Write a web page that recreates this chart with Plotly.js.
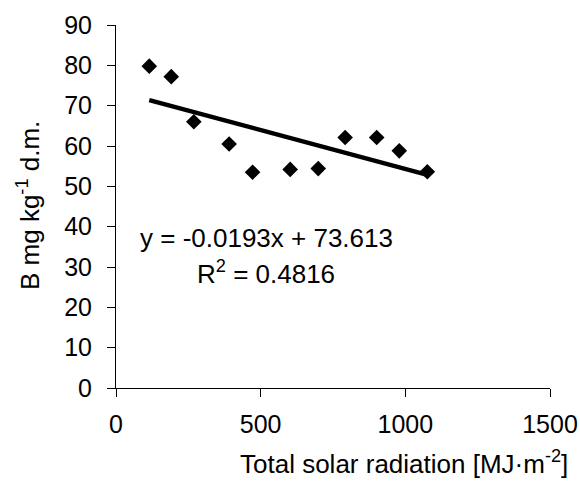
<!DOCTYPE html>
<html>
<head>
<meta charset="utf-8">
<script src="https://cdn.plot.ly/plotly-3.0.1.min.js"></script>
<style>html,body{margin:0;padding:0;background:#fff;}#chart{width:580px;height:482px;}</style>
</head>
<body>
<div id="chart"></div>
<script>
// Data
var radiation = [115, 191, 269, 391, 472, 602, 699, 792, 901, 979, 1076];
var boron = [79.8, 77.2, 66.0, 60.5, 53.5, 54.2, 54.4, 62.1, 62.1, 58.8, 53.6];
var slope = -0.0193;
var intercept = 73.613;
var r2 = 0.4816;
var xTicks = [0, 500, 1000, 1500];
var yTicks = [0, 10, 20, 30, 40, 50, 60, 70, 80, 90];
var xTitle = 'Total solar radiation [MJ·m<sup>-2</sup>]';
var yTitle = 'B mg kg<sup>-1</sup> d.m.';

var xMin = Math.min.apply(null, radiation);
var xMax = Math.max.apply(null, radiation);
var trendX = [xMin, xMax];
var trendY = trendX.map(function (x) { return slope * x + intercept; });

var FONT = "'Liberation Sans', Arial, sans-serif";
var TICK = 25, TITLE = 26, EQ = 26;

var traces = [
  {
    x: trendX, y: trendY, mode: 'lines', type: 'scatter',
    line: {color: '#000', width: 4.5}, hoverinfo: 'skip', showlegend: false
  },
  {
    x: radiation, y: boron, mode: 'markers', type: 'scatter',
    marker: {symbol: 'diamond', size: 12, color: '#000', line: {width: 0}},
    showlegend: false
  }
];

var layout = {
  width: 580, height: 482,
  margin: {l: 116, r: 30, t: 25, b: 94},
  paper_bgcolor: '#fff', plot_bgcolor: '#fff',
  font: {family: FONT, size: TICK, color: '#000'},
  showlegend: false,
  xaxis: {
    range: [0, 1500], tickvals: xTicks, ticktext: xTicks.map(String),
    showgrid: false, zeroline: false, showline: true, linecolor: '#000', linewidth: 1,
    ticks: 'outside', ticklen: 8, tickwidth: 1, tickcolor: '#000',
    ticklabelstandoff: 6,
    tickfont: {family: FONT, size: TICK, color: '#000'}, fixedrange: true
  },
  yaxis: {
    range: [0, 90], tickvals: yTicks, ticktext: yTicks.map(String),
    showgrid: false, zeroline: false, showline: true, linecolor: '#000', linewidth: 1,
    ticks: 'outside', ticklen: 8, tickwidth: 1, tickcolor: '#000',
    ticklabelstandoff: 10,
    tickfont: {family: FONT, size: TICK, color: '#000'}, fixedrange: true
  },
  annotations: [
    {
      text: xTitle,
      xref: 'paper', yref: 'paper', x: (404 - 116) / 434, y: -(462 - 388) / 363,
      xanchor: 'center', yanchor: 'middle', showarrow: false,
      font: {family: FONT, size: TITLE, color: '#000'}
    },
    {
      text: yTitle,
      xref: 'paper', yref: 'paper', x: (28 - 116) / 434, y: (388 - 206) / 363,
      xanchor: 'center', yanchor: 'middle', textangle: -90, showarrow: false,
      font: {family: FONT, size: TITLE, color: '#000'}
    },
    {
      text: 'y = ' + slope + 'x + ' + intercept,
      xref: 'paper', yref: 'paper', x: (266 - 116) / 434, y: (388 - 238) / 363,
      xanchor: 'center', yanchor: 'middle', showarrow: false,
      font: {family: FONT, size: EQ, color: '#000'}
    },
    {
      text: 'R<sup>2</sup> = ' + r2,
      xref: 'paper', yref: 'paper', x: (266 - 116) / 434, y: (388 - 272) / 363,
      xanchor: 'center', yanchor: 'middle', showarrow: false,
      font: {family: FONT, size: EQ, color: '#000'}
    }
  ]
};

Plotly.newPlot('chart', traces, layout, {displayModeBar: false, staticPlot: true});
</script>
</body>
</html>
